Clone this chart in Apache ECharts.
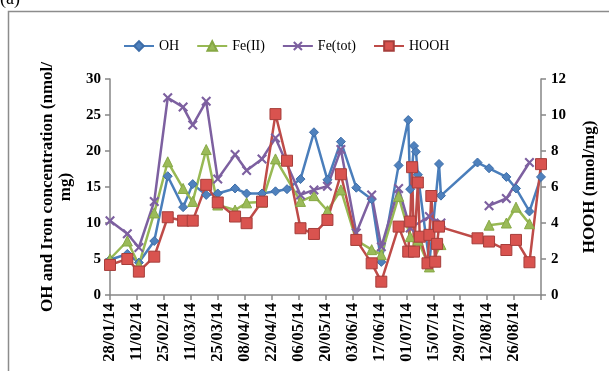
<!DOCTYPE html>
<html>
<head>
<meta charset="utf-8">
<script src="https://cdn.jsdelivr.net/npm/echarts@6/dist/echarts.min.js"></script>
<style>
  html, body { margin: 0; padding: 0; background: #fff; }
  #chart { width: 609px; height: 371px; }
</style>
</head>
<body>
<div id="chart"></div>
<script>
// sampling dates (the x axis runs from 28/01/14 to 09/09/14, a tick every 14 days)
const sampleDates = [
  '2014-01-28', '2014-02-06', '2014-02-12', '2014-02-20', '2014-02-27', '2014-03-07',
  '2014-03-12', '2014-03-19', '2014-03-25', '2014-04-03', '2014-04-09', '2014-04-17',
  '2014-04-24', '2014-04-30', '2014-05-07', '2014-05-14', '2014-05-21', '2014-05-28',
  '2014-06-05', '2014-06-13', '2014-06-18', '2014-06-27', '2014-07-02', '2014-07-03',
  '2014-07-04', '2014-07-05', '2014-07-06', '2014-07-07', '2014-07-08', '2014-07-12',
  '2014-07-13', '2014-07-14', '2014-07-16', '2014-07-17', '2014-07-18', '2014-07-19',
  '2014-08-07', '2014-08-13', '2014-08-22', '2014-08-27', '2014-09-03', '2014-09-09'
]

// null = no sample (line skips it), '-' = line break
const ohValues = [
  4.9, 5.7, 4.5, 7.5, 16.5, 12.2,
  15.4, 13.9, 14.1, 14.8, 14.1, 14.1,
  14.4, 14.7, 16.1, 22.6, 16.0, 21.3,
  14.9, 13.3, 4.6, 18.0, 24.3, 14.7,
  null, 20.7, 19.9, 16.7, null, null,
  4.5, null, null, null, 18.2, 13.8,
  18.4, 17.6, 16.4, 14.8, 11.6, 16.4
]
const fe2Values = [
  5.0, 7.5, 4.2, 11.4, 18.5, 14.8,
  13.0, 20.2, 12.5, 11.8, 12.8, 12.9,
  18.9, null, 13.0, 13.8, 11.7, 14.6,
  7.6, 6.3, 5.6, 13.7, null, 8.1,
  null, null, null, 7.6, null, null,
  3.9, null, null, null, null, 7.0,
  '-', 9.7, 10.0, 12.2, 9.9, null
]
const feTotValues = [
  10.3, 8.5, 6.6, 13.0, 27.4, 26.1,
  23.6, 26.9, 16.1, 19.5, 17.3, 18.9,
  21.8, null, 13.9, 14.6, 15.1, 20.2,
  8.6, 13.9, 6.7, 14.8, null, 9.3,
  null, null, null, null, null, null,
  10.9, null, null, null, null, 10.0,
  '-', 12.4, 13.4, null, 18.4, null
]
const hoohValues = [
  1.67, 2.0, 1.3, 2.13, 4.32, 4.13,
  4.13, 6.12, 5.14, 4.36, 3.99, 5.19,
  10.05, 7.46, 3.71, 3.39, 4.17, 6.71,
  3.06, 1.76, 0.74, 3.8, 2.41, 4.08,
  7.1, 2.41, null, 6.25, 3.24, 1.76,
  3.34, 5.5, 1.85, 2.84, 3.8, null,
  3.15, 2.97, 2.5, 3.06, 1.82, 7.27
]

const leftTicks = [0, 30, 5]   // min, max, step
const rightTicks = [0, 12, 2]

const DAY = 24 * 3600 * 1000
const START = Date.UTC(2014, 0, 28)
const toDay = s => {
  const [y, m, d] = s.split('-').map(Number)
  return Math.round((Date.UTC(y, m - 1, d) - START) / DAY)
}
const dayLabel = v => {
  const d = new Date(START + v * DAY)
  const p = n => String(n).padStart(2, '0')
  return p(d.getUTCDate()) + '/' + p(d.getUTCMonth() + 1) + '/' + String(d.getUTCFullYear()).slice(2)
}
const toPoints = vals => sampleDates
  .map((s, i) => [toDay(s), vals[i]])
  .filter(p => p[1] !== null)

const serif = '"Liberation Serif", "DejaVu Serif", serif'
const axisGray = '#868686'

const chart = echarts.init(document.getElementById('chart'), null, { renderer: 'canvas' })

const xSymbol = 'path://M0,1.5L1.5,0L5,3.5L8.5,0L10,1.5L6.5,5L10,8.5L8.5,10L5,6.5L1.5,10L0,8.5L3.5,5Z'

chart.setOption({
  animation: false,
  backgroundColor: '#fff',
  graphic: [
    { type: 'rect', shape: { x: 8.5, y: 11.5, width: 640, height: 420 },
      style: { fill: 'none', stroke: '#8c8c8c', lineWidth: 1.5 }, silent: true },
    { type: 'text', left: 0, top: -10,
      style: { text: '(a)', font: '18px ' + serif, fill: '#000' } }
  ],
  legend: {
    left: 118,
    top: 34,
    itemWidth: 30,
    itemHeight: 12,
    itemGap: 17,
    textStyle: { fontFamily: serif, fontSize: 14, color: '#000' },
    data: ['OH', 'Fe(II)', 'Fe(tot)', 'HOOH']
  },
  grid: { left: 110, right: 68, top: 79, bottom: 76 },
  xAxis: {
    type: 'value',
    min: 0,
    max: 224,
    interval: 14,
    splitLine: { show: false },
    axisLine: { lineStyle: { color: axisGray, width: 1.5 } },
    axisTick: { length: 5, lineStyle: { color: axisGray, width: 1.5 } },
    axisLabel: {
      rotate: 90,
      margin: 8,
      fontFamily: serif,
      fontWeight: 'bold',
      fontSize: 16.5,
      color: '#000',
      formatter: v => (v >= 224 ? '' : dayLabel(v))
    }
  },
  yAxis: [
    {
      type: 'value',
      min: leftTicks[0],
      max: leftTicks[1],
      interval: leftTicks[2],
      splitLine: { show: false },
      axisLine: { show: true, lineStyle: { color: axisGray, width: 1.5 } },
      axisTick: { show: true, length: 5, lineStyle: { color: axisGray, width: 1.5 } },
      axisLabel: { fontFamily: serif, fontWeight: 'bold', fontSize: 15, color: '#000', margin: 9 },
      name: 'OH and Iron concentration (nmol/\nmg)',
      nameLocation: 'middle',
      nameGap: 34,
      nameTextStyle: { fontFamily: serif, fontWeight: 'bold', fontSize: 17, color: '#000', lineHeight: 18 }
    },
    {
      type: 'value',
      position: 'right',
      min: rightTicks[0],
      max: rightTicks[1],
      interval: rightTicks[2],
      splitLine: { show: false },
      axisLine: { show: true, lineStyle: { color: axisGray, width: 1.5 } },
      axisTick: { show: true, length: 5, lineStyle: { color: axisGray, width: 1.5 } },
      axisLabel: { fontFamily: serif, fontWeight: 'bold', fontSize: 15, color: '#000', margin: 10 },
      name: 'HOOH (nmol/mg)',
      nameLocation: 'middle',
      nameRotate: 90,
      nameGap: 40,
      nameTextStyle: { fontFamily: serif, fontWeight: 'bold', fontSize: 17, color: '#000' }
    }
  ],
  series: [
    {
      name: 'OH', type: 'line', yAxisIndex: 0,
      data: toPoints(ohValues),
      symbol: 'diamond', symbolSize: 9,
      lineStyle: { color: '#4a7ebb', width: 2.5 },
      itemStyle: { color: '#4f81bd', borderColor: '#3d6da8', borderWidth: 1 }
    },
    {
      name: 'Fe(II)', type: 'line', yAxisIndex: 0,
      data: toPoints(fe2Values),
      symbol: 'triangle', symbolSize: 10,
      lineStyle: { color: '#98b954', width: 2.5 },
      itemStyle: { color: '#9bbb59', borderColor: '#86a844', borderWidth: 1 }
    },
    {
      name: 'Fe(tot)', type: 'line', yAxisIndex: 0,
      data: toPoints(feTotValues),
      symbol: xSymbol, symbolSize: 10,
      lineStyle: { color: '#7d60a0', width: 2.5 },
      itemStyle: { color: '#7d60a0' }
    },
    {
      name: 'HOOH', type: 'line', yAxisIndex: 1,
      data: toPoints(hoohValues),
      symbol: 'rect', symbolSize: 11,
      lineStyle: { color: '#be4b48', width: 2.5 },
      itemStyle: { color: '#d9534f', borderColor: '#a63e3b', borderWidth: 1 }
    }
  ]
})
</script>
</body>
</html>
